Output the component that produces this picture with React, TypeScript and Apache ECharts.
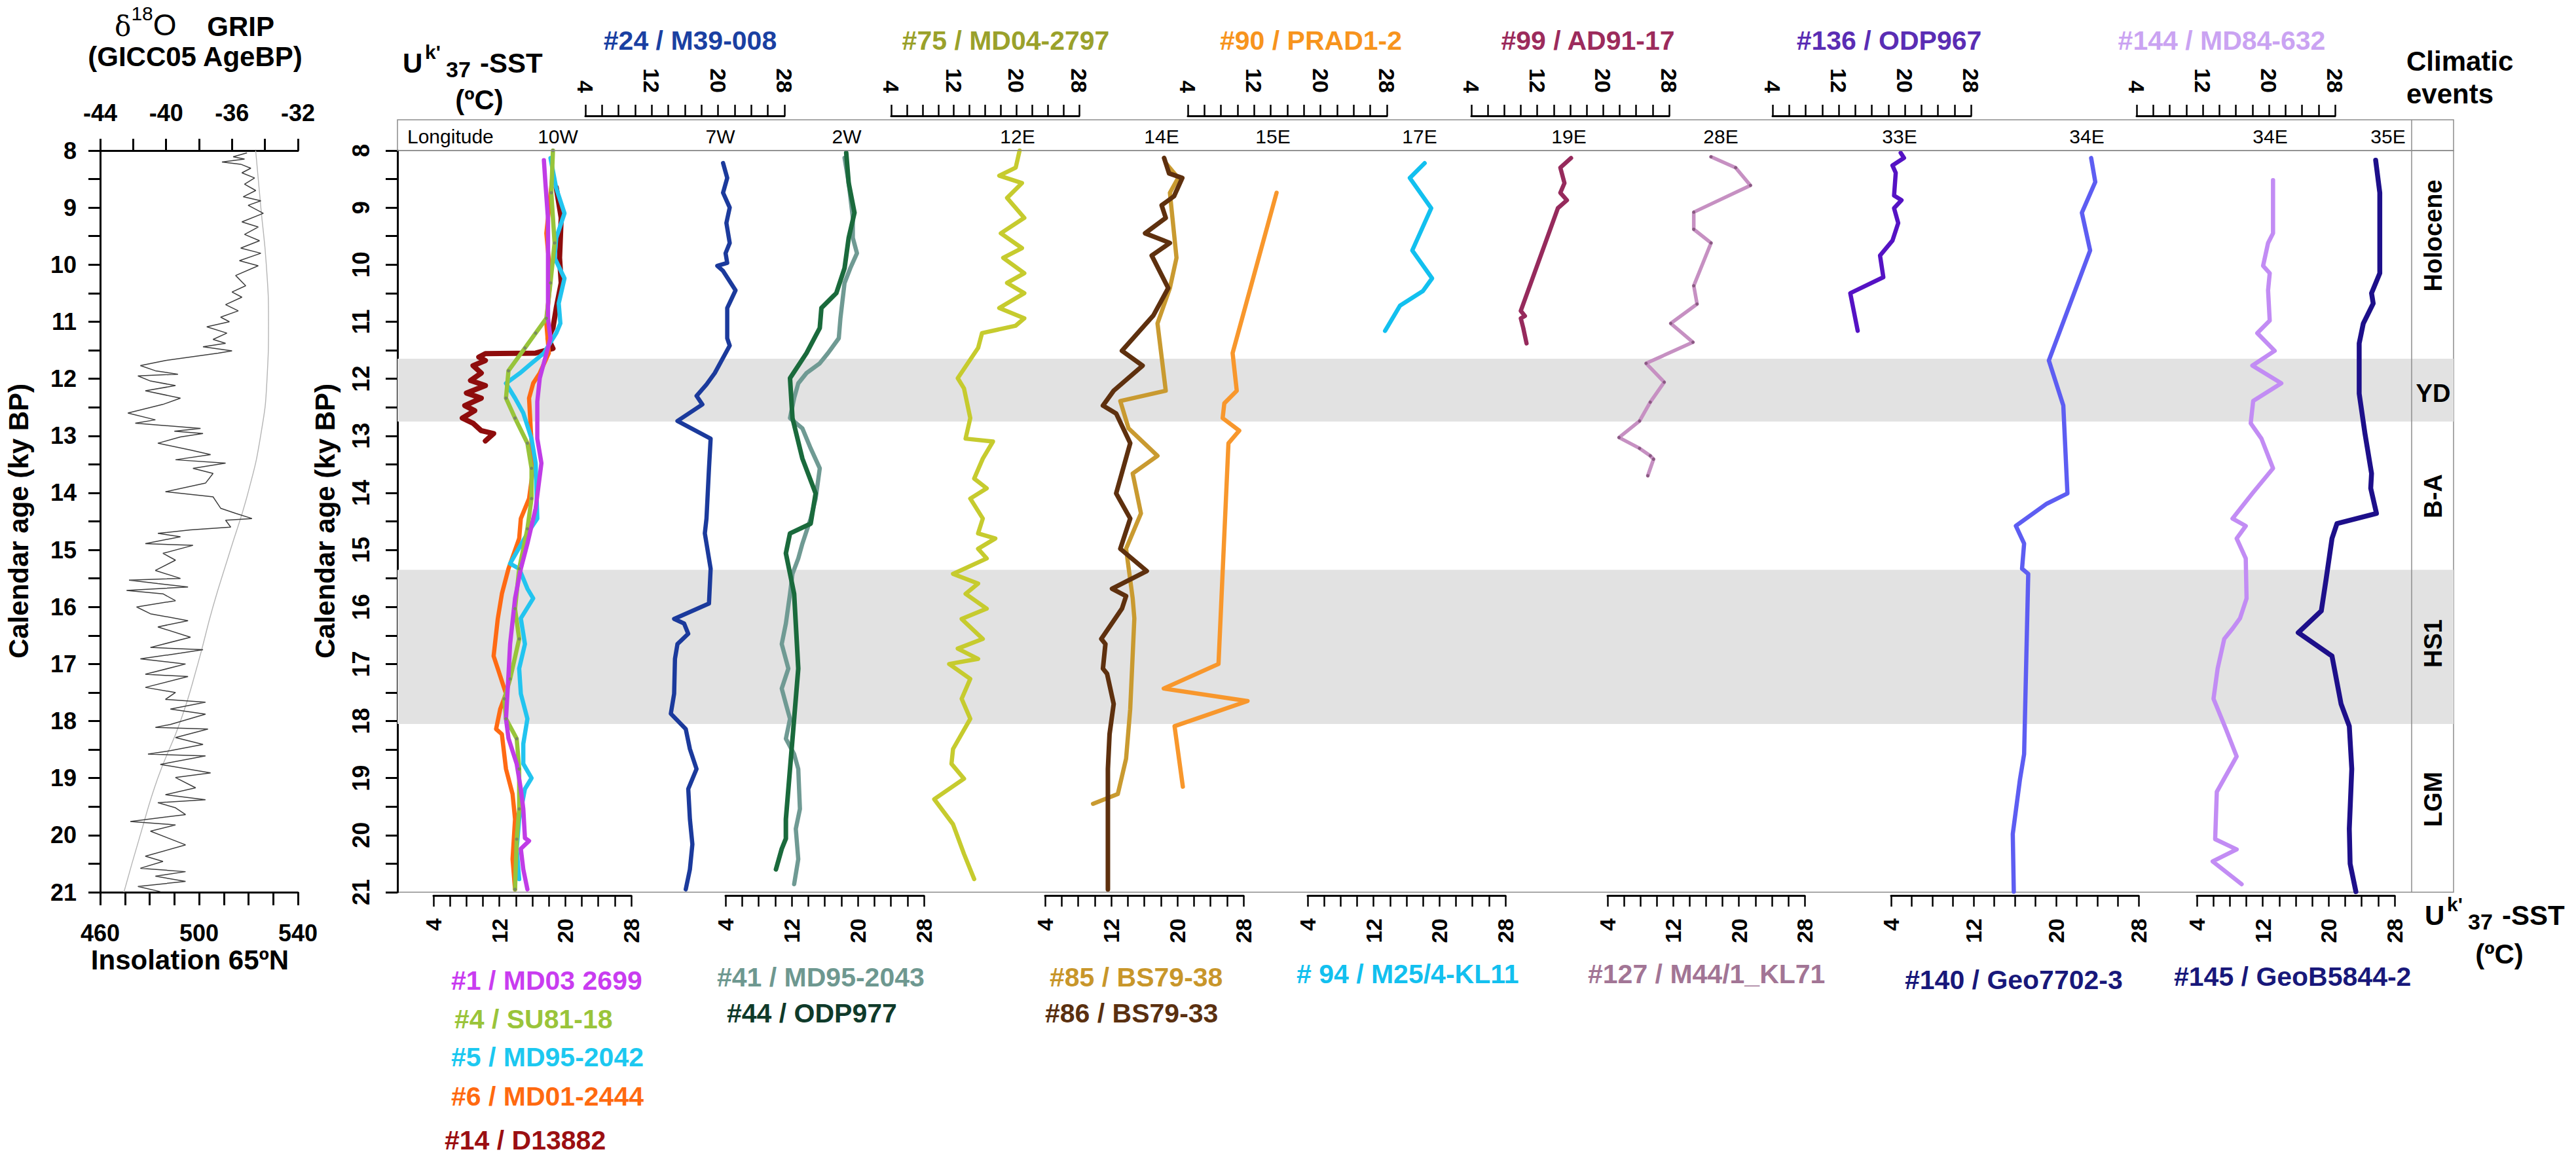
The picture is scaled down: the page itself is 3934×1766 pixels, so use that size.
import React, { useEffect, useRef } from "react";
import * as echarts from "echarts";

// ---------------- DATA ----------------
// GRIP d18O (GICC05) : [age ky BP, d18O permil]
const GRIP: [number, number][] = [
  [8.04,-35.09],[8.11,-35.93],[8.15,-35.24],[8.2,-36.61],[8.24,-35.47],[8.31,-34.86],[8.39,-35.4],[8.48,-34.63],
  [8.59,-35.24],[8.7,-34.56],[8.81,-35.32],[8.88,-34.25],[8.96,-35.02],[9.1,-34.1],[9.25,-35.4],[9.34,-34.41],
  [9.47,-35.24],[9.58,-34.33],[9.71,-35.47],[9.8,-34.25],[9.93,-35.55],[10.02,-34.41],[10.19,-35.78],[10.37,-35.17],
  [10.48,-36.0],[10.57,-35.4],[10.7,-36.39],[10.81,-35.62],[10.92,-36.69],[11.0,-36.16],[11.09,-37.53],[11.2,-36.31],
  [11.31,-37.15],[11.38,-36.39],[11.44,-37.76],[11.51,-36.0],[11.55,-36.84],[11.68,-40.04],[11.77,-41.56],[11.86,-40.65],
  [11.92,-39.28],[11.95,-41.71],[12.04,-40.95],[12.12,-39.43],[12.21,-41.26],[12.34,-39.13],[12.45,-40.2],[12.6,-42.32],
  [12.72,-40.65],[12.78,-41.87],[12.87,-37.91],[12.92,-39.5],[12.96,-37.76],[13.02,-39.13],[13.13,-40.5],[13.25,-38.52],
  [13.33,-37.3],[13.42,-39.43],[13.48,-36.39],[13.57,-38.37],[13.66,-37.15],[13.83,-37.61],[13.98,-40.04],[14.07,-37.15],
  [14.27,-36.69],[14.36,-35.78],[14.45,-34.79],[14.48,-36.39],[14.6,-36.08],[14.65,-38.52],[14.71,-40.5],[14.77,-39.13],
  [14.89,-41.26],[14.92,-38.37],[15.06,-40.19],[15.18,-39.43],[15.36,-40.65],[15.5,-39.13],[15.53,-42.25],[15.59,-40.5],
  [15.65,-38.67],[15.71,-42.4],[15.77,-40.19],[15.89,-39.43],[16.0,-41.79],[16.12,-40.95],[16.24,-38.67],[16.35,-40.5],
  [16.53,-38.52],[16.71,-40.95],[16.75,-37.76],[16.81,-39.13],[16.91,-41.56],[17.0,-38.82],[17.18,-41.26],[17.22,-38.67],
  [17.41,-41.26],[17.5,-39.43],[17.62,-40.04],[17.67,-37.61],[17.79,-39.74],[17.88,-37.61],[18.06,-39.74],[18.11,-40.65],
  [18.14,-37.46],[18.29,-39.43],[18.41,-37.76],[18.52,-39.74],[18.58,-41.1],[18.61,-37.61],[18.76,-40.35],[18.91,-37.3],
  [18.99,-39.43],[19.17,-38.21],[19.29,-40.04],[19.38,-37.61],[19.43,-40.5],[19.52,-39.43],[19.64,-38.82],[19.76,-42.17],
  [19.82,-39.43],[19.93,-40.95],[20.17,-38.82],[20.37,-41.26],[20.46,-40.19],[20.58,-41.56],[20.64,-38.82],[20.72,-40.65],
  [20.81,-38.82],[20.9,-41.71],[20.99,-40.35],
];
// Summer insolation 65N : [age, W/m2]
const INSOLATION: [number, number][] = [
  [8,522.9],[9,525.0],[10,527.2],[11,528.1],[12,527.5],[13,524.9],[14,519.8],[15,512.7],
  [16,505.6],[17,499.5],[18,492.5],[19,483.3],[20,476.2],[21,469.6],
];

// Uk'37-SST records : [age ky BP, SST degC]
const MD03_2699: [number, number][] = [[8.17,17.4],[8.6,17.6],[9.2,17.9],[9.8,17.9],[10.4,17.9],[10.94,17.9],[11.29,18.2],[11.99,16.9],[12.4,16.6],[13.05,16.6],[13.48,17.1],[14.27,16.4],[14.89,15.4],[15.33,14.6],[15.85,13.9],[16.65,13.3],[17.2,13.1],[17.96,12.8],[18.3,13.1],[18.75,14.1],[19.19,14.6],[19.54,14.9],[20.05,15.1],[20.1,15.6],[20.24,14.6],[20.6,14.9],[20.95,15.4]];
const SU81_18: [number, number][] = [[8.0,18.5],[8.74,18.3],[9.62,18.7],[10.32,18.2],[10.94,17.7],[11.2,16.4],[11.46,15.1],[11.86,13.1],[12.34,12.8],[12.69,13.9],[13.13,15.4],[13.57,15.9],[14.1,15.9],[14.63,15.4],[15.33,14.4],[16.03,13.9],[16.56,14.4],[17.26,13.3],[17.61,12.6],[17.96,12.8],[18.31,14.1],[18.84,14.4],[19.54,14.4],[20.07,14.1],[20.95,13.9]];
const MD95_2042: [number, number][] = [[8.13,18.2],[8.66,18.9],[9.1,19.9],[9.53,18.9],[9.88,18.7],[10.24,19.9],[10.68,19.2],[11.03,19.4],[11.2,18.9],[11.55,17.4],[11.73,15.9],[11.9,14.5],[12.08,12.8],[12.34,13.9],[12.6,14.9],[13.05,15.9],[13.48,16.4],[14.45,16.6],[14.71,15.4],[15.24,13.3],[15.33,14.4],[15.68,15.4],[15.85,16.1],[16.2,14.6],[16.65,15.1],[17.08,14.4],[17.52,14.6],[17.96,15.4],[18.4,14.9],[18.75,14.9],[19.0,15.9],[19.19,15.1],[19.72,14.4],[20.24,14.1],[20.77,14.4]];
const MD01_2444: [number, number][] = [[8.5,18.4],[9.45,17.7],[10.24,18.2],[11.03,17.7],[11.55,18.0],[11.9,16.9],[12.08,16.1],[12.34,15.6],[12.87,15.8],[13.57,16.1],[14.1,15.6],[14.45,14.6],[14.8,14.4],[15.33,13.1],[15.77,12.3],[16.21,11.8],[16.86,11.3],[17.08,11.8],[17.52,12.8],[17.79,12.1],[18.14,11.6],[18.23,12.3],[18.84,12.8],[19.28,13.6],[19.72,13.9],[20.42,13.6],[20.95,13.9]];
const D13882: [number, number][] = [[8.65,18.9],[9.18,19.5],[9.88,19.3],[10.32,19.5],[10.76,18.9],[11.11,18.5],[11.29,17.9],[11.47,18.5],[11.55,16.4],[11.56,10.3],[11.62,9.5],[11.68,10.3],[11.77,8.8],[11.9,9.8],[12.03,8.5],[12.12,10.3],[12.25,8.0],[12.34,9.8],[12.47,7.8],[12.56,9.0],[12.69,7.5],[12.78,8.8],[12.91,9.8],[12.96,11.3],[13.09,10.3]];
const M39_008: [number, number][] = [[8.22,20.6],[8.48,21.1],[8.74,20.6],[9.0,21.4],[9.27,21.0],[9.62,21.4],[9.8,20.9],[9.97,21.1],[10.02,19.9],[10.11,20.6],[10.45,22.1],[10.76,21.1],[11.29,21.1],[11.42,21.4],[11.9,19.6],[12.1,18.6],[12.3,17.4],[12.45,18.1],[12.74,15.1],[13.05,19.1],[13.57,18.9],[14.45,18.6],[14.71,18.4],[15.33,19.1],[15.94,18.9],[16.21,14.7],[16.29,15.9],[16.47,16.4],[16.65,15.1],[16.91,14.8],[17.52,14.7],[17.87,14.3],[18.14,16.1],[18.49,16.6],[18.84,17.4],[19.19,16.4],[19.72,16.6],[20.16,16.9],[20.6,16.6],[20.95,16.1]];
const MD95_2043: [number, number][] = [[8.13,18.4],[8.57,18.9],[9.18,19.4],[9.53,19.4],[9.8,19.9],[10.06,19.1],[10.32,18.4],[10.94,17.9],[11.29,17.7],[11.55,16.4],[11.73,15.4],[11.9,13.8],[12.08,12.8],[12.34,12.3],[12.69,11.8],[12.87,13.3],[13.22,14.3],[13.57,15.4],[14.1,14.9],[14.45,14.3],[14.89,13.3],[15.15,12.8],[15.42,12.1],[15.77,11.8],[16.29,11.3],[16.65,10.8],[17.08,11.6],[17.43,10.8],[17.7,11.3],[17.96,11.8],[18.31,11.3],[18.58,12.3],[18.84,12.8],[19.54,13.0],[19.89,12.5],[20.42,12.8],[20.86,12.3]];
const ODP977: [number, number][] = [[8.04,18.6],[8.57,18.9],[9.09,19.6],[9.53,18.9],[10.06,18.4],[10.5,17.4],[10.76,15.6],[11.11,15.4],[11.55,13.8],[11.99,11.8],[12.69,12.1],[13.4,13.3],[14.01,14.9],[14.54,14.3],[14.71,11.8],[15.06,11.3],[15.77,12.3],[17.08,12.8],[17.96,12.3],[18.84,11.8],[19.72,11.3],[20.06,11.3],[20.24,10.8],[20.6,10.1]];
const MD04_2797: [number, number][] = [[8.0,20.4],[8.3,19.9],[8.44,17.8],[8.57,20.7],[8.83,18.8],[9.18,21.0],[9.45,18.0],[9.71,20.7],[9.88,18.3],[10.15,21.0],[10.32,18.8],[10.5,21.0],[10.76,17.8],[10.94,21.0],[11.07,19.9],[11.2,15.6],[11.46,15.1],[11.99,12.5],[12.17,13.3],[12.69,14.1],[13.05,13.5],[13.1,17.0],[13.4,15.7],[13.75,14.6],[13.92,16.2],[14.1,14.1],[14.45,15.7],[14.71,15.1],[14.8,17.3],[14.98,15.1],[15.15,16.2],[15.42,11.9],[15.59,15.1],[15.77,13.5],[16.03,16.2],[16.21,13.0],[16.56,15.7],[16.73,12.5],[16.91,15.1],[17.0,11.4],[17.26,14.1],[17.61,13.0],[17.96,14.1],[18.49,11.9],[18.75,11.7],[19.01,13.3],[19.37,9.5],[19.81,11.9],[20.33,13.3],[20.77,14.6]];
const BS79_38: [number, number][] = [[8.22,18.6],[8.48,20.1],[8.74,19.1],[9.88,19.9],[10.41,19.1],[11.03,17.6],[12.21,18.6],[12.39,13.1],[12.87,14.1],[13.35,17.6],[13.66,14.6],[14.36,15.6],[14.98,13.8],[15.85,14.6],[16.2,14.8],[17.79,14.3],[18.66,13.8],[19.28,12.8],[19.45,9.8]];
const BS79_33: [number, number][] = [[8.13,18.4],[8.4,19.0],[8.48,20.6],[8.8,19.6],[8.96,18.1],[9.18,18.6],[9.45,16.1],[9.62,19.1],[9.84,16.9],[10.41,18.9],[10.89,17.1],[11.51,13.3],[11.77,15.8],[12.21,12.3],[12.47,11.0],[12.61,12.6],[13.13,14.3],[14.01,12.6],[14.45,14.3],[14.98,13.1],[15.37,16.3],[15.68,12.1],[15.81,13.8],[16.03,13.3],[16.56,10.8],[16.65,11.3],[17.08,11.0],[17.17,11.5],[17.7,12.3],[18.23,11.8],[18.84,11.6],[20.95,11.6]];
const PRAD1_2: [number, number][] = [[8.74,14.7],[11.55,9.4],[12.21,9.9],[12.43,8.4],[12.69,8.2],[12.91,10.2],[13.13,8.9],[17.0,7.7],[17.43,1.1],[17.65,11.2],[18.09,2.4],[19.15,3.4]];
const M25_4_KL11: [number, number][] = [[8.22,18.2],[8.48,16.4],[9.01,19.0],[9.75,16.7],[10.24,19.1],[10.46,18.0],[10.72,15.2],[11.16,13.4]];
const AD91_17: [number, number][] = [[8.13,16.1],[8.3,14.8],[8.57,15.3],[8.74,14.8],[8.87,15.6],[9.01,14.5],[10.81,10.0],[10.9,10.5],[10.94,10.0],[11.11,10.3],[11.38,10.7]];
const M44_1_KL71: [number, number][] = [[8.11,16.6],[8.3,19.6],[8.61,21.4],[9.08,14.5],[9.38,14.5],[9.62,16.6],[10.37,14.5],[10.69,14.9],[11.03,11.7],[11.36,14.4],[11.73,8.7],[12.06,10.9],[12.41,9.2],[12.74,7.9],[13.03,5.4],[13.22,7.9],[13.35,9.2],[13.41,9.6],[13.7,8.9]];
const ODP967: [number, number][] = [[8.04,19.5],[8.13,19.9],[8.26,18.5],[8.39,18.9],[8.79,18.7],[8.87,19.6],[9.01,18.7],[9.27,19.2],[9.58,18.5],[9.84,17.0],[10.22,17.4],[10.5,13.4],[11.16,14.3]];
const GEO7702_3: [number, number][] = [[8.13,23.4],[8.55,23.8],[9.09,22.5],[9.75,23.3],[11.68,19.3],[12.47,20.7],[14.01,21.1],[14.19,19.1],[14.58,16.1],[14.89,16.9],[15.33,16.7],[15.42,17.3],[18.58,16.9],[19.02,16.5],[19.98,15.8],[20.99,15.9]];
const MD84_632: [number, number][] = [[8.52,20.5],[9.45,20.5],[9.62,19.9],[10.02,19.3],[10.15,20.1],[10.45,19.9],[10.98,20.1],[11.2,18.6],[11.51,20.7],[11.77,18.0],[12.08,21.5],[12.39,18.1],[12.78,17.8],[13.05,19.1],[13.57,20.5],[14.01,18.0],[14.45,15.6],[14.58,17.2],[14.8,16.1],[15.15,17.2],[15.85,17.3],[16.2,16.5],[16.38,15.6],[16.56,14.6],[17.08,13.8],[17.61,13.3],[18.14,14.8],[18.62,16.1],[19.24,13.7],[20.07,13.5],[20.25,16.1],[20.46,13.2],[20.86,16.7]];
const GEOB5844_2: [number, number][] = [[8.17,25.7],[8.74,26.2],[9.71,26.2],[10.15,26.2],[10.5,25.2],[10.68,25.4],[11.03,24.2],[11.38,23.7],[12.26,23.7],[12.96,24.4],[13.66,25.2],[13.92,25.1],[14.36,25.8],[14.54,21.0],[14.8,20.4],[15.5,19.7],[16.07,19.1],[16.45,16.3],[16.86,20.4],[17.7,21.5],[18.09,22.5],[18.84,22.8],[19.89,22.5],[20.5,22.6],[20.99,23.3]];

// tick labels / categorical texts
const LONGITUDES = ["10W", "7W", "2W", "12E", "14E", "15E", "17E", "19E", "28E", "33E", "34E", "34E", "35E"];
const EVENTS = ["Holocene", "YD", "B-A", "HS1", "LGM"];
const YD_BAND = [11.65, 12.75];
const HS1_BAND = [15.35, 18.05];

// ---------------- LAYOUT ----------------
const FF = "'Liberation Sans', Arial, Helvetica, sans-serif";
const TOP = 230;
const PH = 1133;
const MAIN_L = 607;
const MAIN_R = 3747;
const DIV_X = 3683;
const SST_MIN = 4;
const SST_MAX = 28;
const PAD = 4; // hidden data axes extend by this many degC on each side (no clipping)

const SST_AXES: { left: number; width: number; pos: "top" | "bottom" }[] = [
  { left: 662, width: 302, pos: "bottom" },
  { left: 894, width: 304, pos: "top" },
  { left: 1108, width: 303, pos: "bottom" },
  { left: 1361, width: 287, pos: "top" },
  { left: 1596, width: 303, pos: "bottom" },
  { left: 1814, width: 304, pos: "top" },
  { left: 1997, width: 302, pos: "bottom" },
  { left: 2247, width: 302, pos: "top" },
  { left: 2455, width: 301, pos: "bottom" },
  { left: 2707, width: 303, pos: "top" },
  { left: 2888, width: 378, pos: "bottom" },
  { left: 3263, width: 303, pos: "top" },
  { left: 3355, width: 302, pos: "bottom" },
];

const RECORDS = [
  { data: D13882, color: "#8e0c0c", axis: 0, w: 8 },
  { data: MD01_2444, color: "#ff6a13", axis: 0, w: 6.5 },
  { data: MD95_2042, color: "#22c4ef", axis: 0, w: 6.5 },
  { data: SU81_18, color: "#98c43a", axis: 0, w: 6.5, dots: "#7a8a60" },
  { data: MD03_2699, color: "#c03ce6", axis: 0, w: 6.5 },
  { data: M39_008, color: "#1b3a9c", axis: 1, w: 6.5 },
  { data: MD95_2043, color: "#6f9a93", axis: 2, w: 6.5 },
  { data: ODP977, color: "#1a6a3c", axis: 2, w: 7 },
  { data: MD04_2797, color: "#c6cb2e", axis: 3, w: 6.5 },
  { data: BS79_38, color: "#c99a30", axis: 4, w: 6.5 },
  { data: BS79_33, color: "#5e300e", axis: 4, w: 7 },
  { data: PRAD1_2, color: "#f8972c", axis: 5, w: 6.5 },
  { data: M25_4_KL11, color: "#12c0ef", axis: 6, w: 6.5 },
  { data: AD91_17, color: "#962a5c", axis: 7, w: 6.5 },
  { data: M44_1_KL71, color: "#c690c2", axis: 8, w: 5.5, dots: "#8a5a82" },
  { data: ODP967, color: "#5512c4", axis: 9, w: 6.5 },
  { data: GEO7702_3, color: "#5d5df2", axis: 10, w: 6.5 },
  { data: MD84_632, color: "#c28cf4", axis: 11, w: 6.5 },
  { data: GEOB5844_2, color: "#1d0f8a", axis: 12, w: 7.5 },
];

const TOP_TITLES: [string, number, string][] = [
  ["#24 / M39-008", 1054, "#1a40a2"],
  ["#75 / MD04-2797", 1536, "#9aa12b"],
  ["#90 / PRAD1-2", 2002, "#f7941d"],
  ["#99 / AD91-17", 2425, "#9c2b5c"],
  ["#136 / ODP967", 2885, "#5a2db4"],
  ["#144 / MD84-632", 3393, "#caa3f2"],
];
const BOTTOM_TITLES: [string, number, number, string][] = [
  ["#1 / MD03 2699", 689, 1498, "#c93cf0"],
  ["#4 / SU81-18", 694, 1557, "#9ac43a"],
  ["#5 / MD95-2042", 689, 1615, "#1cc8f0"],
  ["#6 / MD01-2444", 689, 1675, "#ff6a10"],
  ["#14 / D13882", 679, 1742, "#9b0f12"],
  ["#41 / MD95-2043", 1095, 1493, "#6e9890"],
  ["#44 / ODP977", 1110, 1548, "#0f3a2a"],
  ["#85 / BS79-38", 1603, 1493, "#c8962a"],
  ["#86 / BS79-33", 1596, 1548, "#5a3010"],
  ["# 94 / M25/4-KL11", 1980, 1488, "#12c0ef"],
  ["#127 / M44/1_KL71", 2425, 1488, "#a27595"],
  ["#140 / Geo7702-3", 2909, 1497, "#18187a"],
  ["#145 / GeoB5844-2", 3320, 1492, "#18187a"],
];
const LON_X = [852, 1100, 1293, 1554, 1774, 1944, 2168, 2396, 2628, 2901, 3187, 3467, 3647];
const EVENT_Y = [360, 601, 758, 983, 1221];

function txt(text: string, x: number, y: number, o: any = {}) {
  return {
    type: "text",
    x,
    y,
    rotation: o.rot || 0,
    z: 100,
    style: {
      text,
      fill: o.color || "#000",
      fontSize: o.size || 42,
      fontWeight: o.weight || "bold",
      fontFamily: o.family || FF,
      textAlign: o.align || "center",
      textVerticalAlign: "middle",
    },
  };
}

function ukLabel(x: number, y: number) {
  return [
    txt("U", x, y, { align: "left" }),
    txt("k'", x + 34, y - 17, { align: "left", size: 30 }),
    txt("37", x + 66, y + 10, { align: "left", size: 34 }),
    txt("-SST", x + 118, y, { align: "left" }),
  ];
}

const axisBase = {
  axisLine: { show: true, onZero: false, lineStyle: { color: "#000", width: 3 } },
  axisTick: { show: true, length: 18, lineStyle: { color: "#000", width: 3 } },
  splitLine: { show: false },
};

export default function App() {
  const ref = useRef<HTMLDivElement>(null);
  useEffect(() => {
    if (!ref.current) return;
    const chart = echarts.init(ref.current, null, { renderer: "svg" });
    const N = SST_AXES.length;

    const dataGrid = (a: { left: number; width: number }) => {
      const pxPer = a.width / (SST_MAX - SST_MIN);
      return { left: a.left - PAD * pxPer, top: TOP, width: a.width + 2 * PAD * pxPer, height: PH };
    };

    const grids: any[] = [
      { left: 153, top: TOP, width: 302, height: PH },
      { left: MAIN_L, top: TOP, width: MAIN_R - MAIN_L, height: PH, show: true, borderColor: "#8c8c8c", borderWidth: 1.5, backgroundColor: "transparent" },
      ...SST_AXES.map((a) => ({ left: a.left, top: TOP, width: a.width, height: PH })),
      ...SST_AXES.map((a) => dataGrid(a)),
    ];

    const xAxes: any[] = [
      {
        gridIndex: 0, type: "value", position: "top", min: -44, max: -32, interval: 2, ...axisBase,
        axisLabel: { formatter: (v: number) => (v % 4 === 0 ? String(v) : ""), fontSize: 36, fontWeight: "bold", color: "#000", fontFamily: FF, margin: 40 },
      },
      {
        gridIndex: 0, type: "value", position: "bottom", min: 460, max: 540, interval: 10, ...axisBase,
        axisTick: { show: true, length: 20, lineStyle: { color: "#000", width: 3 } },
        axisLabel: { formatter: (v: number) => ((v - 460) % 40 === 0 ? String(v) : ""), fontSize: 36, fontWeight: "bold", color: "#000", fontFamily: FF, margin: 44 },
      },
      { gridIndex: 1, type: "value", min: 0, max: 1, show: false },
      ...SST_AXES.map((a, i) => ({
        gridIndex: i + 2, type: "value", position: a.pos, offset: a.pos === "top" ? 53 : 5,
        min: SST_MIN, max: SST_MAX, interval: 2, ...axisBase,
        axisTick: { show: true, length: 17, lineStyle: { color: "#000", width: 2.5 } },
        axisLabel: { rotate: 90, formatter: (v: number) => ((v - 4) % 8 === 0 ? String(v) : ""), fontSize: 34, fontWeight: "bold", color: "#000", fontFamily: FF, margin: 35 },
      })),
      ...SST_AXES.map((_, i) => ({
        gridIndex: i + 2 + N, type: "value", min: SST_MIN - PAD, max: SST_MAX + PAD, show: false,
      })),
    ];

    const yAxes: any[] = [
      {
        gridIndex: 0, type: "value", inverse: true, min: 8, max: 21, interval: 0.5, ...axisBase,
        axisLabel: { formatter: (v: number) => (Number.isInteger(v) ? String(v) : ""), fontSize: 36, fontWeight: "bold", color: "#000", fontFamily: FF, margin: 36 },
      },
      {
        gridIndex: 1, type: "value", inverse: true, min: 8, max: 21, interval: 0.5, ...axisBase,
        axisLabel: { rotate: 90, formatter: (v: number) => (Number.isInteger(v) ? String(v) : ""), fontSize: 36, fontWeight: "bold", color: "#000", fontFamily: FF, margin: 38 },
      },
      ...SST_AXES.map((_, i) => ({ gridIndex: i + 2, type: "value", inverse: true, min: 8, max: 21, show: false })),
      ...SST_AXES.map((_, i) => ({ gridIndex: i + 2 + N, type: "value", inverse: true, min: 8, max: 21, show: false })),
    ];

    const series: any[] = [
      {
        type: "line", xAxisIndex: 0, yAxisIndex: 0, symbol: "none",
        data: GRIP.map(([a, d]) => [d, a]), lineStyle: { color: "#3c3c3c", width: 1.5 }, z: 3,
      },
      {
        type: "line", xAxisIndex: 1, yAxisIndex: 0, symbol: "none", smooth: true,
        data: INSOLATION.map(([a, v]) => [v, a]), lineStyle: { color: "#b5b5b5", width: 1.4 }, z: 2,
      },
      {
        type: "line", xAxisIndex: 2, yAxisIndex: 1, symbol: "none", data: [[0, 8]],
        lineStyle: { opacity: 0 }, z: 1,
        markArea: {
          silent: true, itemStyle: { color: "#e2e2e2" },
          data: [
            [{ yAxis: YD_BAND[0] }, { yAxis: YD_BAND[1] }],
            [{ yAxis: HS1_BAND[0] }, { yAxis: HS1_BAND[1] }],
          ],
        },
      },
      ...RECORDS.map((r) => ({
        type: "line", xAxisIndex: r.axis + 3 + N, yAxisIndex: r.axis + 2 + N, clip: false,
        data: r.data.map(([a, s]) => [s, a]),
        symbol: r.dots ? "circle" : "none", showSymbol: !!r.dots, symbolSize: 5,
        itemStyle: { color: r.dots || r.color },
        lineStyle: { color: r.color, width: r.w, join: "round", cap: "round" }, z: 5,
      })),
    ];

    const elements: any[] = [
      { type: "rect", z: 50, shape: { x: MAIN_L, y: 183, width: MAIN_R - MAIN_L, height: TOP - 183 }, style: { fill: "none", stroke: "#8c8c8c", lineWidth: 1.5 } },
      { type: "line", z: 50, shape: { x1: DIV_X, y1: 183, x2: DIV_X, y2: TOP + PH }, style: { stroke: "#8c8c8c", lineWidth: 1.5 } },
      {
        type: "text", x: 297, y: 33, z: 100,
        style: {
          text: "{d|δ}{s|18}{o|O}{g|    GRIP}",
          textAlign: "center", textVerticalAlign: "middle",
          rich: {
            d: { fontSize: 42, fontFamily: "'DejaVu Serif', serif", fill: "#000", lineHeight: 56, verticalAlign: "bottom" },
            s: { fontSize: 30, fontFamily: FF, fill: "#000", lineHeight: 56, verticalAlign: "top" },
            o: { fontSize: 46, fontFamily: FF, fill: "#000", lineHeight: 56, verticalAlign: "bottom" },
            g: { fontSize: 42, fontFamily: FF, fontWeight: "bold", fill: "#000", lineHeight: 56, verticalAlign: "bottom" },
          },
        },
      },
      txt("(GICC05 AgeBP)", 298, 86),
      txt("Insolation 65ºN", 290, 1466),
      txt("Calendar age (ky BP)", 28, 796, { rot: Math.PI / 2 }),
      txt("Calendar age (ky BP)", 496, 796, { rot: Math.PI / 2 }),
      ...ukLabel(615, 96),
      txt("(ºC)", 732, 152),
      ...ukLabel(3703, 1398),
      txt("(ºC)", 3817, 1457),
      txt("Climatic", 3675, 93, { align: "left" }),
      txt("events", 3675, 143, { align: "left" }),
      txt("Longitude", 622, 208, { align: "left", weight: "normal", size: 30 }),
      ...LONGITUDES.map((l, i) => txt(l, LON_X[i], 208, { weight: "normal", size: 30 })),
      ...EVENTS.map((e, i) => txt(e, 3716, EVENT_Y[i], { size: 38, rot: e === "YD" ? 0 : Math.PI / 2 })),
      ...TOP_TITLES.map(([t, x, c]) => txt(t, x, 62, { color: c, size: 41 })),
      ...BOTTOM_TITLES.map(([t, x, y, c]) => txt(t, x, y, { color: c, size: 41, align: "left" })),
    ];

    chart.setOption({
      animation: false,
      backgroundColor: "#ffffff",
      grid: grids,
      xAxis: xAxes,
      yAxis: yAxes,
      series,
      graphic: { elements },
    });
    return () => chart.dispose();
  }, []);
  return <div ref={ref} style={{ position: "fixed", left: 0, top: 0, width: 3934, height: 1766, background: "#fff" }} />;
}
